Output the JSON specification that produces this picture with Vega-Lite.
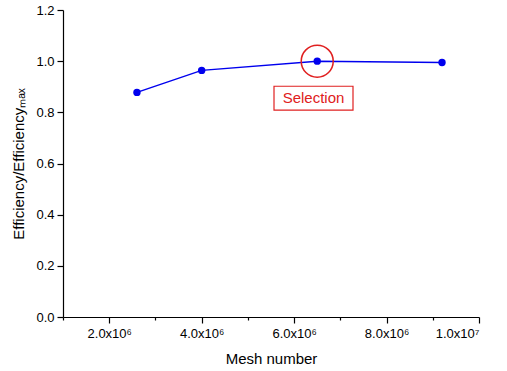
{
  "$schema": "https://vega.github.io/schema/vega-lite/v6.json",
  "autosize": "none",
  "width": 416,
  "height": 307,
  "padding": {"left": 63, "top": 10, "right": 28, "bottom": 54},
  "background": "white",
  "config": {
    "view": {"stroke": null},
    "font": "Liberation Sans",
    "axis": {
      "labelFont": "Liberation Sans",
      "titleFont": "Liberation Sans",
      "labelFontSize": 13,
      "titleFontSize": 15,
      "titleFontWeight": "normal",
      "labelColor": "black",
      "titleColor": "black",
      "domainColor": "black",
      "tickColor": "black",
      "domainWidth": 1.2,
      "tickWidth": 1.2,
      "grid": false
    }
  },
  "datasets": {
    "main": [
      {"mesh": 2600000, "eff": 0.878},
      {"mesh": 4000000, "eff": 0.964},
      {"mesh": 6500000, "eff": 1.0},
      {"mesh": 9200000, "eff": 0.995}
    ]
  },
  "layer": [
    {
      "data": {"name": "main"},
      "mark": {"type": "line", "color": "#0000ee", "strokeWidth": 1.5},
      "encoding": {
        "x": {
          "field": "mesh", "type": "quantitative",
          "scale": {"domain": [1000000, 10000000], "nice": false, "zero": false},
          "axis": {
            "title": "Mesh number",
            "titlePadding": 11,
            "values": [1000000, 2000000, 3000000, 4000000, 5000000, 6000000, 7000000, 8000000, 9000000, 10000000],
            "labelExpr": "datum.value % 2000000 !== 0 ? '' : (datum.value >= 10000000 ? '1.0x10⁷' : format(datum.value/1000000, '.1f') + 'x10⁶')",
            "tickSize": {"condition": {"test": "datum.value % 2000000 === 0", "value": 6}, "value": 3},
            "labelPadding": 4
          }
        },
        "y": {
          "field": "eff", "type": "quantitative",
          "scale": {"domain": [0, 1.2], "nice": false},
          "axis": {
            "title": "Efficiency/Efficiencyₘₐₓ",
            "titlePadding": 9,
            "values": [0, 0.1, 0.2, 0.3, 0.4, 0.5, 0.6, 0.7, 0.8, 0.9, 1.0, 1.1, 1.2],
            "labelExpr": "round(datum.value*10) % 2 !== 0 ? '' : format(datum.value, '.1f')",
            "tickSize": {"condition": {"test": "round(datum.value*10) % 2 === 0", "value": 6}, "value": 3},
            "labelPadding": 3
          }
        }
      }
    },
    {
      "data": {"name": "main"},
      "mark": {"type": "point", "filled": true, "color": "#0000ee", "size": 55, "opacity": 1},
      "encoding": {
        "x": {"field": "mesh", "type": "quantitative"},
        "y": {"field": "eff", "type": "quantitative"}
      }
    },
    {
      "data": {"values": [{"mesh": 6500000, "eff": 1.0}]},
      "mark": {"type": "point", "shape": "circle", "filled": false, "color": "#e02020", "size": 1024, "strokeWidth": 1.5, "opacity": 1},
      "encoding": {
        "x": {"field": "mesh", "type": "quantitative"},
        "y": {"field": "eff", "type": "quantitative"}
      }
    },
    {
      "data": {"values": [{"x1": 5565000, "x2": 7274000, "y1": 0.809, "y2": 0.902}]},
      "mark": {"type": "rect", "fill": null, "stroke": "#e02020", "strokeWidth": 1.2},
      "encoding": {
        "x": {"field": "x1", "type": "quantitative"},
        "x2": {"field": "x2"},
        "y": {"field": "y1", "type": "quantitative"},
        "y2": {"field": "y2"}
      }
    },
    {
      "data": {"values": [{"x": 6420000, "y": 0.855, "label": "Selection"}]},
      "mark": {"type": "text", "color": "#e02020", "fontSize": 15, "font": "Liberation Sans", "align": "center", "baseline": "middle"},
      "encoding": {
        "x": {"field": "x", "type": "quantitative"},
        "y": {"field": "y", "type": "quantitative"},
        "text": {"field": "label"}
      }
    }
  ]
}
